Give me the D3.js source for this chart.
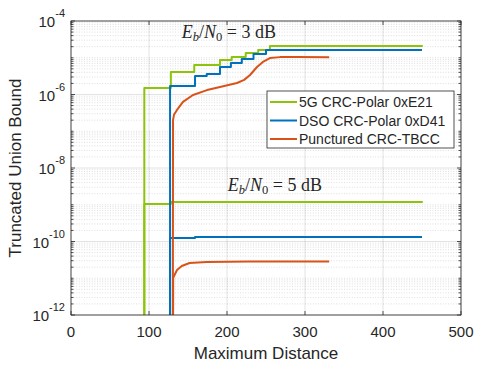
<!DOCTYPE html>
<html>
<head>
<meta charset="utf-8">
<script src="https://cdn.jsdelivr.net/npm/d3@7"></script>
<style>
  body { margin: 0; background: #fff; }
  text { font-family: "Liberation Sans", Arial, sans-serif; fill: #262626; }
  .tex { font-family: "Liberation Serif", "DejaVu Serif", serif; }
</style>
</head>
<body>
<div id="chart"></div>
<script>
// values
const floorValue = 1e-15;   // stands in for "nothing yet", drawn below the axis

const green3Dist = [94, 128, 158, 191, 206, 224, 240, 255, 451];
const green3Val  = [1.5e-6, 4.1e-6, 6.35e-6, 8.7e-6, 1.05e-5, 1.35e-5, 1.63e-5, 2.09e-5, 2.09e-5];
const blue3Dist  = [127, 159, 174, 191, 205, 219, 234, 250, 450];
const blue3Val   = [1.7e-6, 3.2e-6, 3.6e-6, 5.6e-6, 7.2e-6, 9.2e-6, 1.26e-5, 1.63e-5, 1.63e-5];
const orange3Dist = [130.5, 130.8, 132, 135.9, 143.6, 156.4, 174.4, 191, 212.8, 222, 229.5, 238.5, 246, 255, 268, 290, 331];
const orange3Val  = [floorValue, 2.0e-7, 2.8e-7, 3.8e-7, 6.3e-7, 9.7e-7, 1.32e-6, 1.6e-6, 2.06e-6, 2.5e-6, 3.4e-6, 5.6e-6, 7.7e-6, 9.8e-6, 1.04e-5, 1.04e-5, 1.03e-5];

const green5Dist = [94, 128, 451];
const green5Val  = [1.05e-9, 1.19e-9, 1.19e-9];
const blue5Dist  = [127, 159, 450];
const blue5Val   = [1.25e-10, 1.32e-10, 1.32e-10];
const orange5Dist = [130.5, 131, 135.9, 142, 152, 174, 230, 331];
const orange5Val  = [floorValue, 1.02e-11, 1.68e-11, 2.15e-11, 2.6e-11, 2.77e-11, 2.85e-11, 2.85e-11];

const seriesNames = ['5G CRC-Polar 0xE21', 'DSO CRC-Polar 0xD41', 'Punctured CRC-TBCC'];
const seriesColors = ['#8cc40c', '#0072bd', '#d95319'];

const xTicks = [0, 100, 200, 300, 400, 500];
const yTickExp = [-4, -6, -8, -10, -12];
const xLabel = 'Maximum Distance';
const yLabel = 'Truncated Union Bound';

// chart static params
const width = 483, height = 368;
const margin = {top: 21, right: 22, bottom: 53, left: 71};
const innerW = width - margin.left - margin.right,
      innerH = height - margin.top - margin.bottom;

const xScale = d3.scaleLinear().domain([0, 500]).range([0, innerW]);
const yScale = d3.scaleLog().domain([1e-12, 1e-4]).range([innerH, 0]);

const svg = d3.select('#chart').append('svg')
    .attr('width', width).attr('height', height)
  .append('g')
    .attr('transform', `translate(${margin.left},${margin.top})`);

// minor grid (log y): 2..9 x 10^k plus the untagged decades
const minorY = [];
for (let e = -12; e < -4; e++) {
  for (let m = 1; m <= 9; m++) {
    const v = m * Math.pow(10, e);
    if (m === 1 && yTickExp.includes(e)) continue;
    minorY.push(v);
  }
}
svg.append('g').selectAll('line').data(minorY).join('line')
    .attr('x1', 0).attr('x2', innerW)
    .attr('y1', d => yScale(d)).attr('y2', d => yScale(d))
    .attr('stroke', '#262626').attr('stroke-opacity', 0.25)
    .attr('stroke-width', 0.6).attr('stroke-dasharray', '1,1.6');

// major grid
svg.append('g').selectAll('line').data(yTickExp).join('line')
    .attr('x1', 0).attr('x2', innerW)
    .attr('y1', d => yScale(Math.pow(10, d))).attr('y2', d => yScale(Math.pow(10, d)))
    .attr('stroke', '#262626').attr('stroke-opacity', 0.13).attr('stroke-width', 1);
svg.append('g').selectAll('line').data(xTicks).join('line')
    .attr('x1', d => xScale(d)).attr('x2', d => xScale(d))
    .attr('y1', 0).attr('y2', innerH)
    .attr('stroke', '#262626').attr('stroke-opacity', 0.13).attr('stroke-width', 1);

// clip the curves to the axes box
svg.append('defs').append('clipPath').attr('id', 'clip')
  .append('rect').attr('width', innerW).attr('height', innerH);
const plotArea = svg.append('g').attr('clip-path', 'url(#clip)');

const zipPts = (ds, vs) => ds.map((d, i) => [d, vs[i]]);
const stepLine = d3.line().x(d => xScale(d[0])).y(d => yScale(d[1])).curve(d3.curveStepAfter);
const smoothLine = d3.line().x(d => xScale(d[0])).y(d => yScale(d[1]));

const curves = [
  {pts: [[green5Dist[0], floorValue]].concat(zipPts(green5Dist, green5Val)), color: 0, step: true},
  {pts: [[blue5Dist[0], floorValue]].concat(zipPts(blue5Dist, blue5Val)), color: 1, step: true},
  {pts: zipPts(orange5Dist, orange5Val), color: 2, step: false},
  {pts: [[green3Dist[0], floorValue]].concat(zipPts(green3Dist, green3Val)), color: 0, step: true},
  {pts: [[blue3Dist[0], floorValue]].concat(zipPts(blue3Dist, blue3Val)), color: 1, step: true},
  {pts: zipPts(orange3Dist, orange3Val), color: 2, step: false}
];

plotArea.selectAll('path').data(curves).join('path')
    .attr('d', d => (d.step ? stepLine : smoothLine)(d.pts))
    .attr('fill', 'none')
    .attr('stroke', d => seriesColors[d.color])
    .attr('stroke-width', 2)
    .attr('stroke-linejoin', 'round');

// axes box
svg.append('rect').attr('width', innerW).attr('height', innerH)
    .attr('fill', 'none').attr('stroke', '#262626').attr('stroke-width', 0.8);

// ticks (inward, both sides)
const tk = svg.append('g').attr('stroke', '#262626').attr('stroke-width', 0.8);
xTicks.forEach(t => {
  tk.append('line').attr('x1', xScale(t)).attr('x2', xScale(t)).attr('y1', innerH).attr('y2', innerH - 4);
  tk.append('line').attr('x1', xScale(t)).attr('x2', xScale(t)).attr('y1', 0).attr('y2', 4);
});
yTickExp.forEach(e => {
  const y = yScale(Math.pow(10, e));
  tk.append('line').attr('x1', 0).attr('x2', 4).attr('y1', y).attr('y2', y);
  tk.append('line').attr('x1', innerW).attr('x2', innerW - 4).attr('y1', y).attr('y2', y);
});
minorY.forEach(v => {
  const y = yScale(v);
  tk.append('line').attr('x1', 0).attr('x2', 2.5).attr('y1', y).attr('y2', y);
  tk.append('line').attr('x1', innerW).attr('x2', innerW - 2.5).attr('y1', y).attr('y2', y);
});

// tick labels
svg.append('g').selectAll('text').data(xTicks).join('text')
    .attr('x', d => xScale(d)).attr('y', innerH + 22)
    .attr('text-anchor', 'middle').attr('font-size', 15)
    .text(d => d);

const yLab = svg.append('g').selectAll('text').data(yTickExp).join('text')
    .attr('x', -6).attr('y', d => yScale(Math.pow(10, d)) + 6)
    .attr('text-anchor', 'end').attr('font-size', 15);
yLab.append('tspan').text('10');
yLab.append('tspan').attr('dy', -10).attr('font-size', 11).text(d => d);

// axis labels
svg.append('text')
    .attr('text-anchor', 'middle').attr('font-size', 17)
    .attr('x', innerW / 2).attr('y', innerH + 44)
    .text(xLabel);
svg.append('text')
    .attr('text-anchor', 'middle').attr('font-size', 17)
    .attr('transform', `translate(${-50},${innerH / 2}) rotate(-90)`)
    .text(yLabel);

// Eb/N0 annotations
function ebn0(x, y, db) {
  const t = svg.append('text').attr('class', 'tex').attr('font-size', 18)
      .attr('x', x).attr('y', y);
  t.append('tspan').attr('font-style', 'italic').text('E');
  t.append('tspan').attr('font-style', 'italic').attr('font-size', 12.5).attr('dy', 3).text('b');
  t.append('tspan').attr('dy', -3).text('/');
  t.append('tspan').attr('font-style', 'italic').text('N');
  t.append('tspan').attr('font-size', 12.5).attr('dy', 3).text('0');
  t.append('tspan').attr('dy', -3).text(' = ' + db + ' dB');
}
ebn0(xScale(142), 17, 3);
ebn0(xScale(201), 170, 5);

// legend
const legend = svg.append('g').attr('transform', `translate(${267 - margin.left},${91 - margin.top})`);
legend.append('rect').attr('width', 187).attr('height', 57)
    .attr('fill', '#fff').attr('stroke', '#262626').attr('stroke-width', 0.8);
seriesNames.forEach((name, i) => {
  const cy = 11 + i * 18.5;
  legend.append('line').attr('x1', 3).attr('x2', 30).attr('y1', cy).attr('y2', cy)
      .attr('stroke', seriesColors[i]).attr('stroke-width', 2);
  legend.append('text').attr('x', 32).attr('y', cy + 5).attr('font-size', 14).text(name);
});
</script>
</body>
</html>
